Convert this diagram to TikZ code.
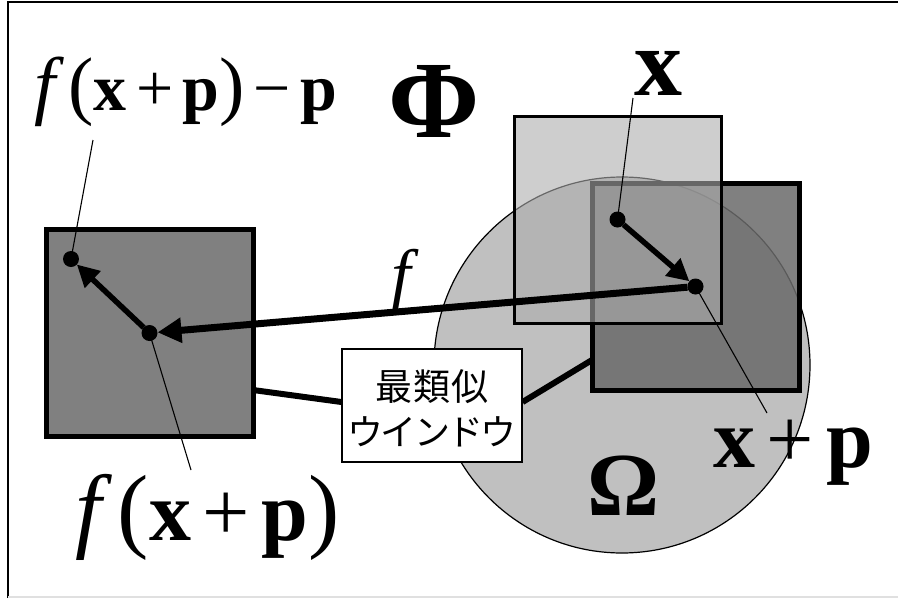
\documentclass[tikz,border=0pt]{standalone}
\usepackage{fontspec}
\setmainfont{Liberation Serif}
\newfontfamily\cjk{Noto Sans CJK JP}
\usetikzlibrary{arrows.meta}
\definecolor{circfill}{RGB}{192,192,192}
\definecolor{darkfill}{RGB}{106,106,106}
\definecolor{upfill}{RGB}{173,173,173}
\definecolor{leftfill}{RGB}{128,128,128}
\tikzset{
  sq/.style={draw, minimum width=207pt, minimum height=207pt, inner sep=0pt, outer sep=0pt},
  dotn/.style={circle, fill=black, minimum size=16pt, inner sep=0pt, outer sep=0pt},
  lbl/.style={inner sep=0pt, anchor=base},
  thinline/.style={line width=1.1pt},
  bigarrow/.style={line width=5.5pt, -{Triangle[length=22pt,width=22pt]}},
  farrow/.style={line width=7pt, -{Triangle[length=24pt,width=24pt]}},
  link/.style={line width=6pt},
}
\newcommand\bx{\textbf{x}}
\newcommand\bp{\textbf{p}}
\newcommand\opsp{\hspace{0.14em}}
\begin{document}
\begin{tikzpicture}[x=1pt,y=-1pt]
\useasboundingbox (0,0) rectangle (898,598);
% frame
\draw[line width=2.5pt] (8,598) -- (8,2) -- (898,2);
\draw[black!12, line width=2pt] (8,597) -- (898,597);
% region Omega
\draw[fill=circfill, line width=1.2pt] (622,365) circle (188);
% squares
\node[sq, line width=5pt, fill=darkfill, fill opacity=0.85, draw opacity=1] (R) at (695.5,286.5) {};
\node[sq, line width=3pt, fill=upfill, fill opacity=0.6, draw opacity=1] (U) at (617.5,219.5) {};
\node[sq, line width=5pt, fill=leftfill] (L) at (149.5,333) {};
% window box and links
\node[draw, fill=white, line width=1.2pt, minimum width=180pt, minimum height=113pt, inner sep=0pt] (box) at (432,405.5) {};
\node[inner sep=0pt, align=center, font=\cjk\fontsize{36}{45}\selectfont] (boxtext) at (432,408) {{\fontsize{37}{45}\selectfont\addfontfeature{LetterSpace=4}最類似}\\{\addfontfeature{LetterSpace=-8}ウインドウ}};
\draw[link] ([yshift=-57pt]L.east) -- ([yshift=3.5pt]box.west);
\draw[link] ([yshift=3.5pt]box.east) -- ([yshift=-73.5pt]R.west);
% dots
\node[dotn] (dx) at (U.center) {};
\node[dotn] (dxp) at (R.center) {};
\node[dotn] (dfxp) at (L.center) {};
\node[dotn] (dfm) at (71,259) {};
% arrows
\draw[bigarrow] (dx) -- (dxp);
\draw[farrow] (dxp) -- (dfxp);
\draw[bigarrow] (dfxp) -- (dfm);
% label leaders
\coordinate (c1) at (93,140);
\coordinate (c2) at (191,470);
\coordinate (c3) at (633,98);
\coordinate (c4) at (767,413);
\draw[thinline] (c1) -- (dfm.center);
\draw[thinline] (c2) -- (dfxp.center);
\draw[thinline] (c3) -- (dx.center);
\draw[thinline] (c4) -- (dxp.center);
% labels
\node[lbl, anchor=base west] (lab1) at (34,110) {\fontsize{66}{66}\selectfont{\fontsize{76}{76}\selectfont\textit{f}\hspace{0.06em}(}\bx\opsp+\opsp\bp{\fontsize{76}{76}\selectfont)}\opsp−\opsp\bp};
\node[lbl] (phi) at (434,137) {\fontsize{110}{110}\selectfont\textbf{Φ}};
\node[lbl] (xl) at (658,95) {\fontsize{96}{96}\selectfont\bx};
\node[lbl] (fl) at (405,298) {\fontsize{70}{70}\selectfont\textit{f}};
\node[lbl, anchor=base west] (xpl) at (713,467) {\fontsize{84}{84}\selectfont\bx\opsp+\opsp\bp};
\node[lbl] (om) at (624,515) {\fontsize{90}{90}\selectfont\textbf{Ω}};
\node[lbl, anchor=base west] (fxp) at (75,540) {\fontsize{84}{84}\selectfont{\fontsize{94}{94}\selectfont\textit{f}\hspace{0.06em}(}\bx\opsp+\opsp\bp{\fontsize{94}{94}\selectfont)}};
\end{tikzpicture}
\end{document}
